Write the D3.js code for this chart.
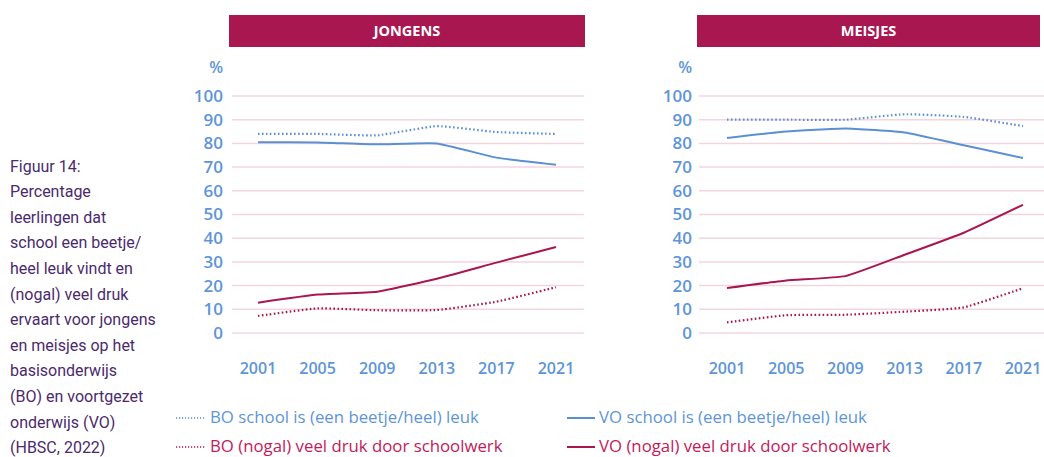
<!DOCTYPE html>
<html lang="nl">
<head>
  <meta charset="utf-8">
  <title>Figuur 14</title>
  <script src="https://d3js.org/d3.v7.min.js"></script>
  <style>
    body { margin: 0; background: #fff; }
  </style>
</head>
<body>
<script>
// data
var years = ["2001", "2005", "2009", "2013", "2017", "2021"];
var yTicks = [0, 10, 20, 30, 40, 50, 60, 70, 80, 90, 100];

var jongensBoLeuk = [84, 84, 83.4, 87.3, 84.8, 84];
var jongensVoLeuk = [80.5, 80.4, 79.6, 80, 74, 71];
var jongensBoDruk = [7.2, 10.4, 9.6, 9.7, 13.2, 19.3];
var jongensVoDruk = [12.8, 16.2, 17.4, 22.9, 29.7, 36.3];

var meisjesBoLeuk = [90, 90, 90, 92.3, 91.2, 87.3];
var meisjesVoLeuk = [82.3, 85, 86.3, 84.6, 79.2, 73.8];
var meisjesBoDruk = [4.5, 7.5, 7.7, 9, 10.8, 18.9];
var meisjesVoDruk = [19, 22.2, 24, 33, 42.3, 54.1];

var captionLines = ["Figuur 14:", "Percentage", "leerlingen dat", "school een beetje/",
  "heel leuk vindt en", "(nogal) veel druk", "ervaart voor jongens", "en meisjes op het",
  "basisonderwijs", "(BO) en voortgezet", "onderwijs (VO)", "(HBSC, 2022)"];

var blue = "#5b8fd4";
var red = "#a8174f";
var blueText = "#5e95d8";
var redText = "#c21a5a";

var w = 1044, h = 457;

var svg = d3.select("body").append("svg")
  .attr("width", w)
  .attr("height", h);

// caption on the left
svg.append("g").selectAll("text")
  .data(captionLines)
  .enter().append("text")
  .attr("x", 10)
  .attr("y", function(d, i) { return 166 + i * 25.6; })
  .attr("dy", "0.35em")
  .style("font-family", "Roboto, sans-serif")
  .style("font-size", "16px")
  .attr("fill", "#4b2a6e")
  .text(function(d) { return d; });

var y = d3.scaleLinear().domain([0, 100]).range([333, 96]);

function drawPanel(title, hx0, hx1, gx0, gx1, px0, px1, labelX, series) {
  var g = svg.append("g");

  // title bar
  g.append("rect")
    .attr("x", hx0).attr("y", 15)
    .attr("width", hx1 - hx0).attr("height", 32)
    .attr("fill", "#a91750");
  g.append("text")
    .attr("x", (hx0 + hx1) / 2).attr("y", 31)
    .attr("dy", "0.35em")
    .attr("text-anchor", "middle")
    .style("font-family", "'Open Sans', sans-serif")
    .style("font-weight", "700")
    .style("font-size", "14.5px")
    .attr("fill", "#fff")
    .text(title);

  var x = d3.scalePoint().domain(years).range([px0, px1]);

  // gridlines
  g.selectAll(".grid").data(yTicks).enter().append("line")
    .attr("x1", gx0).attr("x2", gx1)
    .attr("y1", function(d) { return y(d); })
    .attr("y2", function(d) { return y(d); })
    .attr("stroke", "#f3d5de")
    .attr("stroke-width", 1.5);

  // y labels
  g.selectAll(".ylab").data(yTicks).enter().append("text")
    .attr("x", labelX)
    .attr("y", function(d) { return y(d); })
    .attr("dy", "0.35em")
    .attr("text-anchor", "end")
    .style("font-family", "'Open Sans', sans-serif")
    .style("font-weight", "600")
    .style("font-size", "17px")
    .attr("fill", blueText)
    .text(function(d) { return d; });

  g.append("text")
    .attr("x", labelX).attr("y", 67)
    .attr("dy", "0.35em")
    .attr("text-anchor", "end")
    .style("font-family", "'Open Sans', sans-serif")
    .style("font-weight", "600")
    .style("font-size", "16px")
    .attr("fill", blueText)
    .text("%");

  // x labels
  g.selectAll(".xlab").data(years).enter().append("text")
    .attr("x", function(d) { return x(d); })
    .attr("y", 368)
    .attr("dy", "0.35em")
    .attr("text-anchor", "middle")
    .style("font-family", "'Open Sans', sans-serif")
    .style("font-weight", "600")
    .style("font-size", "16px")
    .attr("fill", blueText)
    .text(function(d) { return d; });

  var line = d3.line()
    .x(function(d, i) { return x(years[i]); })
    .y(function(d) { return y(d); })
    .curve(d3.curveCardinal.tension(0.6));

  series.forEach(function(s) {
    g.append("path")
      .datum(s.values)
      .attr("d", line)
      .attr("fill", "none")
      .attr("stroke", s.color)
      .attr("stroke-width", s.dotted ? 2.2 : 2)
      .attr("stroke-dasharray", s.dotted ? "1.6,2.4" : null);
  });
}

drawPanel("JONGENS", 229, 585, 232, 584, 258, 556, 223, [
  { values: jongensBoLeuk, color: blue, dotted: true },
  { values: jongensVoLeuk, color: blue, dotted: false },
  { values: jongensBoDruk, color: red, dotted: true },
  { values: jongensVoDruk, color: red, dotted: false }
]);

drawPanel("MEISJES", 697, 1040, 699, 1044, 727, 1023, 692, [
  { values: meisjesBoLeuk, color: blue, dotted: true },
  { values: meisjesVoLeuk, color: blue, dotted: false },
  { values: meisjesBoDruk, color: red, dotted: true },
  { values: meisjesVoDruk, color: red, dotted: false }
]);

// legend
var legendItems = [
  { label: "BO school is (een beetje/heel) leuk", x: 176, y: 417, color: blue, text: blueText, dotted: true },
  { label: "VO school is (een beetje/heel) leuk", x: 567, y: 417, color: blue, text: blueText, dotted: false },
  { label: "BO (nogal) veel druk door schoolwerk", x: 176, y: 446, color: red, text: redText, dotted: true },
  { label: "VO (nogal) veel druk door schoolwerk", x: 567, y: 446, color: red, text: redText, dotted: false }
];

var leg = svg.append("g").selectAll("g").data(legendItems).enter().append("g");
leg.append("line")
  .attr("x1", function(d) { return d.x; })
  .attr("x2", function(d) { return d.x + (d.dotted ? 30 : 28); })
  .attr("y1", function(d) { return d.y + 1; })
  .attr("y2", function(d) { return d.y + 1; })
  .attr("stroke", function(d) { return d.color; })
  .attr("stroke-width", function(d) { return d.dotted ? 1.5 : 2; })
  .attr("stroke-dasharray", function(d) { return d.dotted ? "1.2,1.8" : null; });
leg.append("text")
  .attr("x", function(d) { return d.x + (d.dotted ? 34 : 32); })
  .attr("y", function(d) { return d.y; })
  .attr("dy", "0.35em")
  .style("font-family", "'Open Sans', sans-serif")
  .style("font-size", "16.8px")
  .attr("fill", function(d) { return d.text; })
  .text(function(d) { return d.label; });
</script>
</body>
</html>
